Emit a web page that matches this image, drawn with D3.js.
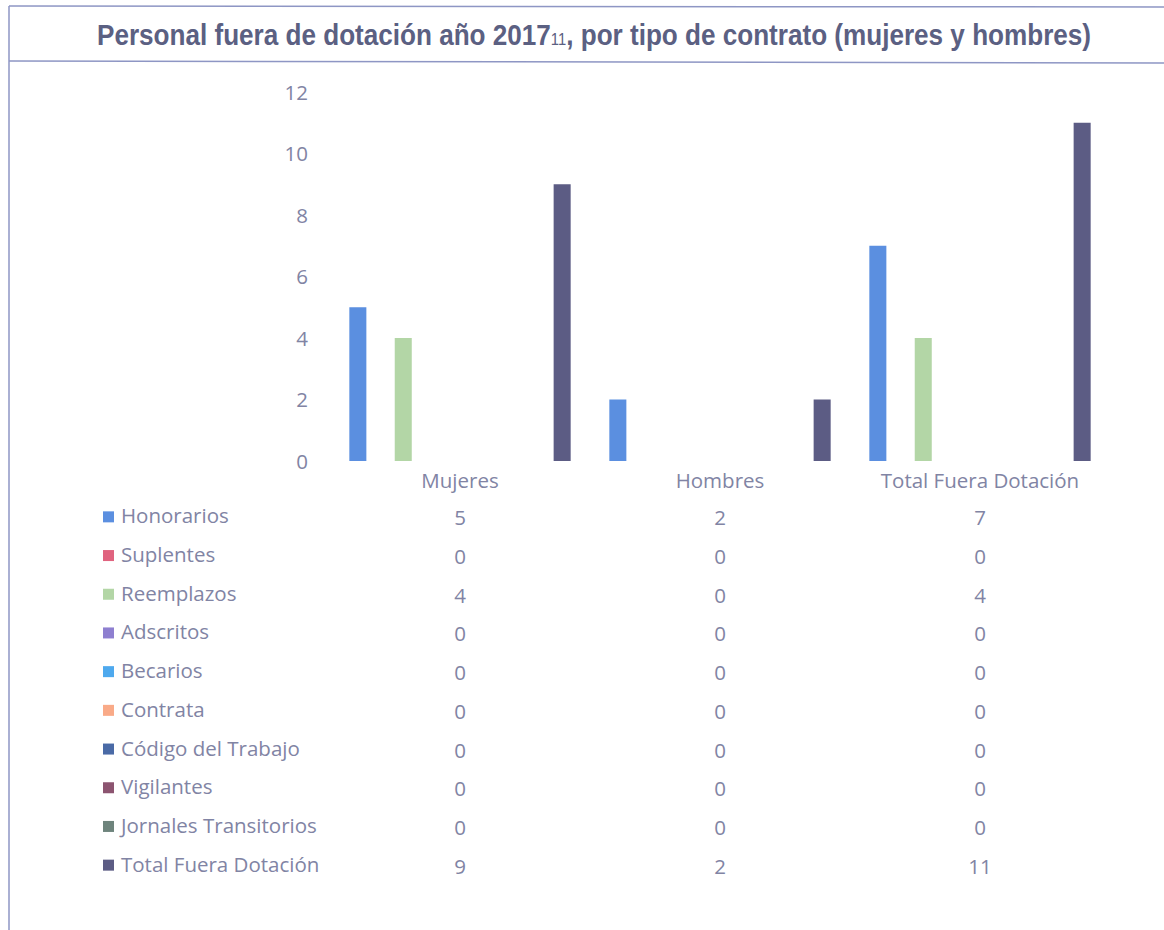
<!DOCTYPE html>
<html>
<head>
<meta charset="utf-8">
<script src="https://cdn.jsdelivr.net/npm/d3@7"></script>
<style>
  body { margin: 0; background: #fff; }
  svg { display: block; }
</style>
</head>
<body>
<svg id="chart" width="1164" height="930"></svg>
<script>
// categories (x axis groups)
var categories = ["Mujeres", "Hombres", "Total Fuera Dotación"];

// contract types (series)
var series = ["Honorarios", "Suplentes", "Reemplazos", "Adscritos", "Becarios",
  "Contrata", "Código del Trabajo", "Vigilantes", "Jornales Transitorios", "Total Fuera Dotación"];

// values per series, one per category
var honorarios = [5, 2, 7];
var suplentes = [0, 0, 0];
var reemplazos = [4, 0, 4];
var adscritos = [0, 0, 0];
var becarios = [0, 0, 0];
var contrata = [0, 0, 0];
var codigoTrabajo = [0, 0, 0];
var vigilantes = [0, 0, 0];
var jornales = [0, 0, 0];
var totalFuera = [9, 2, 11];

var yTicks = [0, 2, 4, 6, 8, 10, 12];

var colors = ["#5b8fe0", "#e0637f", "#b3d6a6", "#8e7fd0", "#4ea9ee",
  "#f9aa88", "#4a6aa6", "#8c5470", "#6e847c", "#5c5c84"];

var values = [honorarios, suplentes, reemplazos, adscritos, becarios,
  contrata, codigoTrabajo, vigilantes, jornales, totalFuera];

var svg = d3.select("#chart");
var textColor = "#8184a4";
var font = "'Open Sans', 'Noto Sans', sans-serif";
var fontSize = "20.5px";

// frame lines
svg.append("line").attr("x1", 9).attr("y1", 6).attr("x2", 1164).attr("y2", 7)
  .attr("stroke", "#8e96c4").attr("stroke-width", 1.5);
svg.append("line").attr("x1", 9).attr("y1", 61).attr("x2", 1164).attr("y2", 63)
  .attr("stroke", "#8e96c4").attr("stroke-width", 1.5);
svg.append("line").attr("x1", 9).attr("y1", 6).attr("x2", 9).attr("y2", 930)
  .attr("stroke", "#8e96c4").attr("stroke-width", 1.5);

// title (narrowed, the original uses a condensed face)
var title = svg.append("text")
  .attr("transform", "translate(594,45) scale(0.87,1)")
  .attr("text-anchor", "middle")
  .attr("font-family", "'Liberation Sans Narrow', 'Arial Narrow', 'Liberation Sans', sans-serif")
  .attr("font-weight", "bold")
  .attr("font-size", "30px")
  .attr("fill", "#5b6082");
title.append("tspan").text("Personal fuera de dotación año 2017");
title.append("tspan").attr("font-size", "17px").attr("font-weight", "normal").text("11");
title.append("tspan").text(", por tipo de contrato (mujeres y hombres)");

// scales
var x0 = d3.scaleBand().domain(categories).range([330, 1110]).paddingInner(0).paddingOuter(0);
var x1 = d3.scaleBand().domain(series).range([16.5, x0.bandwidth() - 16.5]).paddingInner(0.25).paddingOuter(0.125);
var y = d3.scaleLinear().domain([0, 12]).range([461, 92]);

// y axis labels
svg.append("g").selectAll("text")
  .data(yTicks)
  .enter()
  .append("text")
  .attr("x", 308)
  .attr("y", function(d) { return y(d) + 7.5; })
  .attr("text-anchor", "end")
  .attr("font-family", font)
  .attr("font-size", fontSize)
  .attr("fill", textColor)
  .text(function(d) { return d; });

// bars
var groups = svg.append("g").selectAll("g")
  .data(categories)
  .enter()
  .append("g")
  .attr("transform", function(d) { return "translate(" + x0(d) + ",0)"; });

groups.selectAll("rect")
  .data(function(d, ci) {
    return series.map(function(s, si) { return { s: s, v: values[si][ci], c: colors[si] }; });
  })
  .enter()
  .append("rect")
  .attr("x", function(d) { return x1(d.s); })
  .attr("width", x1.bandwidth())
  .attr("y", function(d) { return y(d.v); })
  .attr("height", function(d) { return y(0) - y(d.v); })
  .attr("fill", function(d) { return d.c; });

// category labels
svg.append("g").selectAll("text")
  .data(categories)
  .enter()
  .append("text")
  .attr("x", function(d) { return x0(d) + x0.bandwidth() / 2; })
  .attr("y", 488)
  .attr("text-anchor", "middle")
  .attr("font-family", font)
  .attr("font-size", fontSize)
  .attr("fill", textColor)
  .text(function(d) { return d; });

// data table with legend keys
var rowY = d3.scaleBand().domain(series).range([497, 884]);

var rows = svg.append("g").selectAll("g")
  .data(series)
  .enter()
  .append("g")
  .attr("transform", function(d) { return "translate(0," + (rowY(d) + rowY.bandwidth() / 2) + ")"; });

rows.append("rect")
  .attr("x", 103).attr("y", -5)
  .attr("width", 11).attr("height", 11)
  .attr("fill", function(d, i) { return colors[i]; });

rows.append("text")
  .attr("x", 121).attr("y", 7)
  .attr("font-family", font)
  .attr("font-size", fontSize)
  .attr("fill", textColor)
  .text(function(d) { return d; });

rows.selectAll("text.val")
  .data(function(d, i) { return values[i]; })
  .enter()
  .append("text")
  .attr("class", "val")
  .attr("x", function(d, i) { return x0(categories[i]) + x0.bandwidth() / 2; })
  .attr("y", 9)
  .attr("text-anchor", "middle")
  .attr("font-family", font)
  .attr("font-size", fontSize)
  .attr("fill", textColor)
  .text(function(d) { return d; });
</script>
</body>
</html>
